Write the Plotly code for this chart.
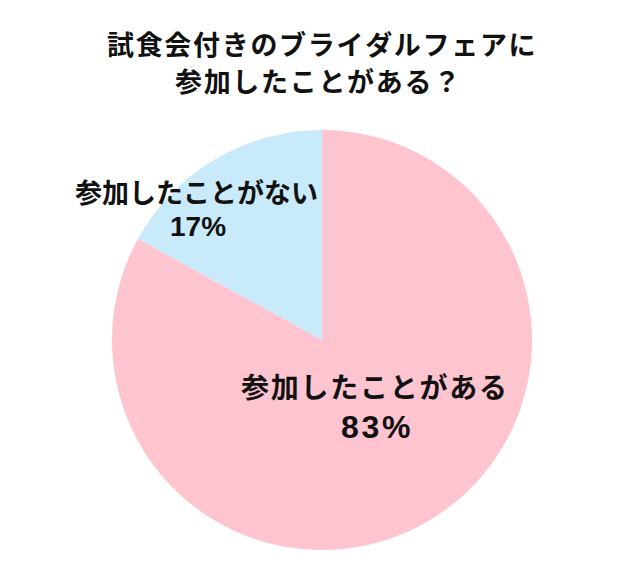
import plotly.graph_objects as go

# Data
labels = ["参加したことがある", "参加したことがない"]
values = [83, 17]
colors = ["#FEC4D0", "#C9EAFB"]
title_lines = ["試食会付きのブライダルフェアに", "参加したことがある？"]

W, H = 640, 580
OFF = 8  # page body margin offset
ML, MR, MT, MB = 112 - OFF, 108 + OFF, 130 - OFF, 30 + OFF
PW, PH = W - ML - MR, H - MT - MB
JP = "Noto Sans CJK JP, Noto Sans CJK SC, sans-serif"
NUM = "Liberation Sans, Arial, sans-serif"


def px2paper(x, y):
    # x, y are target screen pixels
    x -= OFF
    y -= OFF
    return (x - ML) / PW, (H - MB - y) / PH


def spaced(s, sep="\u200a"):
    return sep.join(list(s))


fig = go.Figure(
    go.Pie(
        labels=labels,
        values=values,
        sort=False,
        direction="clockwise",
        rotation=0,
        marker=dict(colors=colors, line=dict(width=0)),
        textinfo="none",
        hoverinfo="label+percent",
        showlegend=False,
    )
)

annots = []


def add_text(txt, x, y, size, family=JP):
    px, py = px2paper(x, y)
    annots.append(
        dict(
            text=txt,
            x=px,
            y=py,
            xref="paper",
            yref="paper",
            xanchor="center",
            yanchor="middle",
            showarrow=False,
            font=dict(family=family, size=size, color="#111111", weight="bold"),
        )
    )


add_text(spaced(title_lines[0]), 321, 43, 27)
add_text(spaced(title_lines[1]), 317, 81, 27)

add_text(labels[1], 196, 191, 27)
add_text(f"{values[1]}%", 198, 226, 28, NUM)
add_text(spaced(labels[0]), 374, 386, 28)
add_text(spaced(f"{values[0]}%"), 375, 427, 32, NUM)

fig.update_layout(
    width=W,
    height=H,
    margin=dict(l=ML, r=MR, t=MT, b=MB),
    paper_bgcolor="white",
    plot_bgcolor="white",
    annotations=annots,
)

fig.write_html("out.html")
